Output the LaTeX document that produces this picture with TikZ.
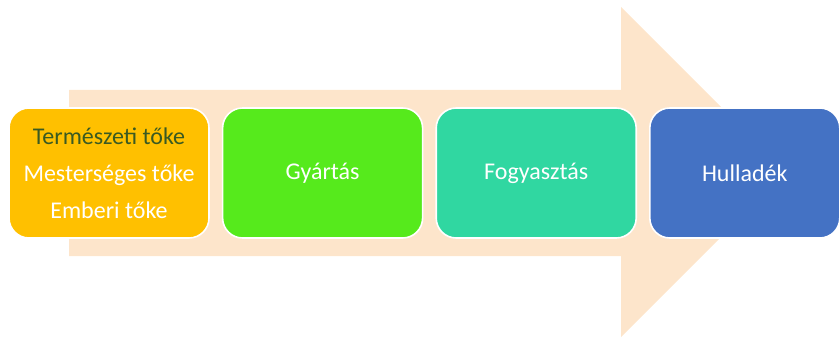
\documentclass[tikz,border=0pt]{standalone}
\usepackage{fontspec}
\setmainfont{Carlito}
\usetikzlibrary{positioning}

\definecolor{peach}{HTML}{FDE5CB}
\definecolor{tokeorange}{HTML}{FFC000}
\definecolor{gyartgreen}{HTML}{56EA1C}
\definecolor{fogyteal}{HTML}{30D7A1}
\definecolor{hullblue}{HTML}{4472C4}
\definecolor{darkolive}{HTML}{3A5A22}

\begin{document}
\begin{tikzpicture}[
	x=1pt, y=1pt,
	node distance=12pt,
	box/.style={draw=white, line width=1.6pt, rounded corners=20pt, rectangle, align=center,
		minimum width=200pt, minimum height=130pt, text=white,
		font=\fontsize{24}{37}\selectfont},
	]

		\useasboundingbox (0,0) rectangle (840,338);

		% Arrow
		\fill[peach] (69,82) -- (69,248) -- (621,248) -- (621,331) -- (786,166)
			-- (621,1) -- (621,82) -- cycle;

		% Nodes
		\node[box, fill=tokeorange] (toke) at (109,165)
			{\textcolor{darkolive}{Természeti tőke}\\Mesterséges tőke\\Emberi tőke};
		\node[box, fill=gyartgreen, right=of toke] (gyartas) {Gyártás};
		\node[box, fill=fogyteal, right=of gyartas] (fogyasztas) {Fogyasztás};
		\node[box, fill=hullblue, right=of fogyasztas, minimum width=190pt] (hulladek) {Hulladék};
	\end{tikzpicture}
\end{document}
